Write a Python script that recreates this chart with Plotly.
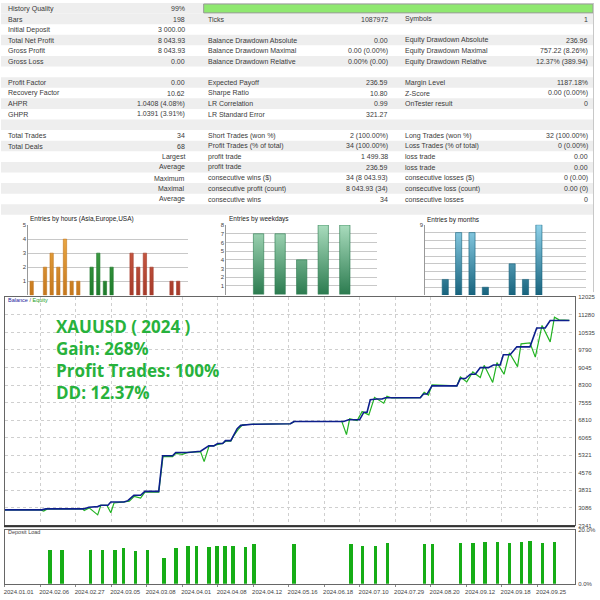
import plotly.graph_objects as go

W = H = 600
def PX(x): return x / W
def PY(y): return 1 - y / H

# ---------------- DATA ----------------
col1_labels = ["History Quality", "Bars", "Initial Deposit", "Total Net Profit", "Gross Profit", "Gross Loss", "",
               "Profit Factor", "Recovery Factor", "AHPR", "GHPR", "",
               "Total Trades", "Total Deals", "", "", "", "", "", ""]
col1_values = ["99%", "198", "3 000.00", "8 043.93", "8 043.93", "0.00", "",
               "0.00", "10.62", "1.0408 (4.08%)", "1.0391 (3.91%)", "",
               "34", "68", "Largest", "Average", "Maximum", "Maximal", "Average", ""]
col2_labels = ["", "Ticks", "", "Balance Drawdown Absolute", "Balance Drawdown Maximal", "Balance Drawdown Relative", "",
               "Expected Payoff", "Sharpe Ratio", "LR Correlation", "LR Standard Error", "",
               "Short Trades (won %)", "Profit Trades (% of total)", "profit trade", "profit trade",
               "consecutive wins ($)", "consecutive profit (count)", "consecutive wins", ""]
col2_values = ["", "1087972", "", "0.00", "0.00 (0.00%)", "0.00% (0.00)", "",
               "236.59", "10.80", "0.99", "321.27", "",
               "2 (100.00%)", "34 (100.00%)", "1 499.38", "236.59", "34 (8 043.93)", "8 043.93 (34)", "34", ""]
col3_labels = ["", "Symbols", "", "Equity Drawdown Absolute", "Equity Drawdown Maximal", "Equity Drawdown Relative", "",
               "Margin Level", "Z-Score", "OnTester result", "", "",
               "Long Trades (won %)", "Loss Trades (% of total)", "loss trade", "loss trade",
               "consecutive losses ($)", "consecutive loss (count)", "consecutive losses", ""]
col3_values = ["", "1", "", "236.96", "757.22 (8.26%)", "12.37% (389.94)", "",
               "1187.18%", "0.00 (0.00%)", "0", "", "",
               "32 (100.00%)", "0 (0.00%)", "0.00", "0.00", "0 (0.00)", "0.00 (0)", "0", ""]

hour_counts = [1, 0, 2, 3, 2, 4, 1, 1, 0, 2, 3, 1, 2, 0, 0, 3, 2, 3, 2, 0, 0, 1, 1, 0]
hour_session = ["asia"] * 8 + ["europe"] * 7 + ["usa"] * 9
weekday_counts = [0, 7, 7, 4, 8, 8, 0]
month_counts = [0, 2, 8, 8, 1, 0, 4, 2, 9, 0, 0, 0]

balance_x = [0, 10.4, 11.6, 22.3, 23.7, 26.2, 27.1, 29.1, 29.9, 33.6, 34.7, 36.4, 38.3, 39.5, 43.4, 44.5, 47.3,
             48.2, 51.6, 55.2, 57.5, 58.9, 60.0, 61.4, 62.2, 63.7, 64.5, 65.5, 66.5, 69.8, 80.5, 81.5, 95.5, 96.9,
             100.0, 101.2, 102.1, 103.0, 104.9, 106.3, 107.3, 117.1, 118.0, 119.0, 120.4, 127.4, 128.4, 129.8,
             131.2, 132.6, 134.0, 136.3, 137.7, 139.6, 140.5, 142.4, 144.3, 148.0, 149.9, 152.3, 153.7, 159.1]
balance_y = [3000, 3000, 3043, 3043, 3114, 3140, 3198, 3198, 3337, 3337, 3392, 3619, 3619, 3787, 3787, 5300, 5300,
             5439, 5439, 5493, 5720, 5720, 5817, 5817, 5943, 5943, 6166, 6447, 6590, 6636, 6657, 6754, 6754, 6826,
             6826, 7149, 7149, 7679, 7708, 7708, 7763, 7763, 7918, 7918, 8267, 8267, 8578, 8578, 8759, 8759, 9041,
             9041, 9150, 9150, 9587, 9587, 9923, 9923, 10722, 10722, 11044, 11044]

equity_x = [0, 10.0, 11.0, 12.0, 22.0, 22.4, 23.8, 26.2, 27.1, 28.8, 29.9, 30.8, 33.6, 35.1, 36.5, 38.3, 39.5, 43.4,
            44.6, 47.3, 48.2, 50.1, 51.6, 55.2, 56.2, 57.6, 58.9, 59.9, 61.4, 62.3, 63.7, 64.6, 65.8, 66.5, 67.0,
            69.8, 80.5, 81.7, 95.0, 96.3, 97.2, 99.3, 100.7, 102.6, 104.2, 106.8, 107.7, 109.1, 117.1, 118.2, 119.4,
            120.4, 127.4, 128.4, 130.2, 131.9, 134.0, 135.1, 137.5, 138.7, 140.7, 142.2, 144.5, 145.5, 148.0, 149.5,
            151.4, 153.7, 154.9, 156.2, 159.1]
equity_y = [3000, 3000, 2950, 3043, 3043, 2971, 3085, 2790, 3198, 3198, 2875, 3295, 3337, 3366, 3577, 3505, 3758,
            3758, 5258, 5258, 5397, 5355, 5439, 5468, 5048, 5720, 5720, 5775, 5817, 5914, 5914, 6166, 6420, 6519,
            6616, 6636, 6657, 6754, 6754, 6195, 6868, 6796, 7174, 7036, 7780, 7528, 7822, 7750, 7763, 7990, 7877,
            8309, 8267, 8646, 8435, 8856, 8620, 9137, 8410, 9251, 8759, 9671, 9083, 10049, 10091, 9486, 10831,
            10133, 11184, 11070, 11044]

load_x = [12.8, 16.1, 24.1, 27.6, 31.1, 33.4, 36.8, 40.3, 44.9, 48.3, 51.6, 54.1, 57.6, 59.8, 62.1, 64.3, 67.8,
          70.2, 81.5, 97.6, 100.9, 104.4, 107.9, 118.2, 120.6, 128.5, 131.9, 135.3, 138.8, 142.2, 145.6, 148.0,
          151.5, 154.9]
load_v = [12.6, 12.6, 12.6, 12.6, 12.6, 13.1, 12.1, 12.6, 9.6, 13.3, 13.9, 14.1, 13.7, 13.9, 14.1, 14.1, 13.7,
          14.7, 14.7, 14.8, 14.1, 14.1, 15.1, 14.8, 14.6, 15.1, 15.2, 15.6, 15.6, 15.1, 15.6, 15.9, 15.1, 15.6]

date_ticks = list(range(0, 160, 10))
date_labels = ["2024.01.01", "2024.02.06", "2024.02.27", "2024.03.05", "2024.03.08", "2024.04.01", "2024.04.08",
               "2024.04.12", "2024.05.16", "2024.06.18", "2024.07.10", "2024.07.29", "2024.08.20", "2024.09.12",
               "2024.09.18", "2024.09.25"]
balance_ticks = [2341, 3086, 3831, 4576, 5321, 6065, 6810, 7555, 8300, 9045, 9790, 10535, 11280, 12025]

headline = ["XAUUSD ( 2024 )", "Gain: 268%", "Profit Trades: 100%", "DD: 12.37%"]

# ---------------- FIGURE ----------------
fig = go.Figure()
shapes = []
ann = []
TXT = "#3a3a3a"
FONT = "Liberation Sans"

# table rows
ROW = 10.7
for i in range(len(col1_labels)):
    if i % 2 == 1 or i == 0:
        shapes.append(dict(type="rect", xref="paper", yref="paper", x0=0, x1=PX(593),
                           y0=PY(ROW * (i + 1)), y1=PY(ROW * i), fillcolor="#eeeeee",
                           line=dict(width=0), layer="below"))
shapes.append(dict(type="rect", xref="paper", yref="paper", x0=PX(203), x1=PX(593), y0=PY(10), y1=PY(1),
                   fillcolor="#8fe870", line=dict(width=1, color="#9a9a9a")))
shapes.append(dict(type="line", xref="paper", yref="paper", x0=PX(593.5), x1=PX(593.5), y0=PY(292), y1=PY(0),
                   line=dict(width=1, color="#c8c8c8")))

def cell(text, x, y, anchor):
    if text:
        ann.append(dict(text=text, x=PX(x), y=PY(y), xref="paper", yref="paper", xanchor=anchor,
                        yanchor="middle", showarrow=False, font=dict(family=FONT, size=7, color=TXT)))

for i in range(len(col1_labels)):
    yc = ROW * i + 5.6
    cell(col1_labels[i], 5, yc, "left")
    cell(col1_values[i], 186, yc, "right")
    cell(col2_labels[i], 205, yc, "left")
    cell(col2_values[i], 390, yc, "right")
    cell(col3_labels[i], 403, yc, "left")
    cell(col3_values[i], 590, yc, "right")

# ---------- histograms -----------
def bar_polys(cats, vals, width):
    xs, ys = [], []
    for c, v in zip(cats, vals):
        if v > 0:
            xs += [c - width / 2, c - width / 2, c + width / 2, c + width / 2, c - width / 2, None]
            ys += [0, v, v, 0, 0, None]
    return xs, ys

def grad_trace(cats, vals, width, dark, light, top, xa, ya):
    xs, ys = bar_polys(cats, vals, width)
    return go.Scatter(x=xs, y=ys, mode="lines", fill="toself", line=dict(width=0.6, color=dark),
                      fillgradient=dict(type="vertical", colorscale=[[0, dark], [1, light]], start=0, stop=top),
                      xaxis=xa, yaxis=ya, hoverinfo="skip", showlegend=False)

session_colors = {"asia": ("#c4761c", "#f2b24a"), "europe": ("#1e7a2c", "#4fae4f"),
                  "usa": ("#a53a2a", "#d9684e")}
for s, (dk, lt) in session_colors.items():
    cats = [h for h in range(24) if hour_session[h] == s]
    vals = [hour_counts[h] for h in cats]
    fig.add_trace(grad_trace(cats, vals, 0.5, dk, lt, 5, "x3", "y3"))
fig.add_trace(grad_trace(list(range(7)), weekday_counts, 0.48, "#2a7a4e", "#a9dcbd", 8, "x4", "y4"))
fig.add_trace(grad_trace(list(range(12)), month_counts, 0.46, "#16627c", "#8fd2ea", 9, "x5", "y5"))

for t, x, y in [("Entries by hours (Asia,Europe,USA)", 27, 218), ("Entries by weekdays", 226, 218),
                ("Entries by months", 425, 219)]:
    ann.append(dict(text=t, x=PX(x), y=PY(y), xref="paper", yref="paper", xanchor="left", yanchor="middle",
                    showarrow=False, font=dict(family=FONT, size=6.5, color="#222")))

# ---------- main chart ----------
fig.add_trace(go.Scatter(x=equity_x, y=equity_y, mode="lines", line=dict(color="#22b322", width=1.2),
                         xaxis="x", yaxis="y", showlegend=False, hoverinfo="skip"))
fig.add_trace(go.Scatter(x=balance_x, y=balance_y, mode="lines", line=dict(color="#0d1f8c", width=1.6),
                         xaxis="x", yaxis="y", showlegend=False, hoverinfo="skip"))
fig.add_trace(go.Bar(x=load_x, y=load_v, width=0.95, marker=dict(color="#16ad16", line=dict(width=0)),
                     xaxis="x2", yaxis="y2", showlegend=False, hoverinfo="skip"))

ann.append(dict(text="<span style='color:#1a1a9c'>Balance</span> / <span style='color:#22a022'>Equity</span>",
                x=PX(5), y=PY(300), xref="paper", yref="paper", xanchor="left", yanchor="middle",
                showarrow=False, font=dict(family=FONT, size=5.5, color="#555")))
ann.append(dict(text="Deposit Load", x=PX(5), y=PY(534), xref="paper", yref="paper", xanchor="left",
                yanchor="middle", showarrow=False, font=dict(family=FONT, size=5.5, color="#444")))
for k, t in enumerate(headline):
    ann.append(dict(text="<b>%s</b>" % t, x=PX(53), y=PY(327 + 22.3 * k), xref="paper", yref="paper",
                    xanchor="left", yanchor="middle", showarrow=False,
                    font=dict(family="Open Sans", size=17, color="#27b23c")))

shapes.append(dict(type="line", xref="paper", yref="paper", x0=PX(3), x1=PX(575), y0=PY(528.6), y1=PY(528.6),
                   line=dict(width=2, color="#333")))

MAIN_X = [PX(3.7), PX(575)]
XR = [0, 160.7]
axis_font = dict(family=FONT, size=6, color="#444")
grid = dict(showgrid=True, gridcolor="#cfcfcf", griddash="dot", gridwidth=1)

fig.update_layout(
    width=600, height=600, margin=dict(l=0, r=0, t=0, b=0),
    paper_bgcolor="white", plot_bgcolor="white", bargap=0,
    xaxis=dict(domain=MAIN_X, range=XR, anchor="y", tickvals=date_ticks, showticklabels=False, ticks="",
               zeroline=False, showline=True, mirror=True, linecolor="#666", linewidth=1, **grid),
    yaxis=dict(domain=[PY(527.7), PY(297.3)], range=[2341, 12025], anchor="x", side="right",
               tickvals=balance_ticks, ticktext=[str(v) for v in balance_ticks], tickfont=axis_font,
               ticklabelstandoff=1,
               zeroline=False, showline=True, mirror=True, linecolor="#666", linewidth=1, ticks="", **grid),
    xaxis2=dict(domain=MAIN_X, range=XR, anchor="y2", tickvals=date_ticks, ticktext=date_labels,
                tickfont=axis_font, ticks="outside", ticklen=2, tickcolor="#888", ticklabelshift=14,
                ticklabelstandoff=0, showgrid=False, zeroline=False, showline=True, mirror=True,
                linecolor="#666", linewidth=1),
    yaxis2=dict(domain=[PY(586.7), PY(532)], range=[0, 20], anchor="x2", side="right", tickvals=[0, 20],
                ticktext=["0.0%", "20.0%"], tickfont=axis_font, ticklabelstandoff=1, showgrid=False,
                zeroline=False, showline=True,
                mirror=True, linecolor="#666", linewidth=1, ticks=""),
    xaxis3=dict(domain=[PX(27.4), PX(187.5)], range=[-0.5, 23.5], anchor="y3", visible=False),
    yaxis3=dict(domain=[PY(295.2), PY(224.3)], range=[0, 5], anchor="x3", tickvals=[1, 2, 3, 4, 5],
                tickfont=dict(family=FONT, size=6, color="#444"), showgrid=True, gridcolor="#c8c8c8",
                zeroline=False, showline=True, linecolor="#999", ticks=""),
    xaxis4=dict(domain=[PX(225.6), PX(376.8)], range=[-0.5, 6.5], anchor="y4", visible=False),
    yaxis4=dict(domain=[PY(294.5), PY(224.3)], range=[0, 8], anchor="x4", tickvals=list(range(1, 9)),
                tickfont=dict(family=FONT, size=6, color="#444"), showgrid=True, gridcolor="#c8c8c8",
                zeroline=False, showline=True, linecolor="#999", ticks=""),
    xaxis5=dict(domain=[PX(424.9), PX(585.7)], range=[-0.5, 11.5], anchor="y5", visible=False),
    yaxis5=dict(domain=[PY(295), PY(224)], range=[0, 9], anchor="x5", tickvals=[9],
                tickfont=dict(family=FONT, size=6, color="#444"), showgrid=True, gridcolor="#c8c8c8",
                minor=dict(dtick=1, showgrid=True, gridcolor="#c8c8c8"),
                zeroline=False, showline=True, linecolor="#999", ticks=""),
    shapes=shapes, annotations=ann,
)

fig.write_html("out.html", config={"displayModeBar": False, "staticPlot": True},
               post_script="document.body.style.margin='0';document.body.style.padding='0';"
                           "document.body.style.overflow='hidden';")
